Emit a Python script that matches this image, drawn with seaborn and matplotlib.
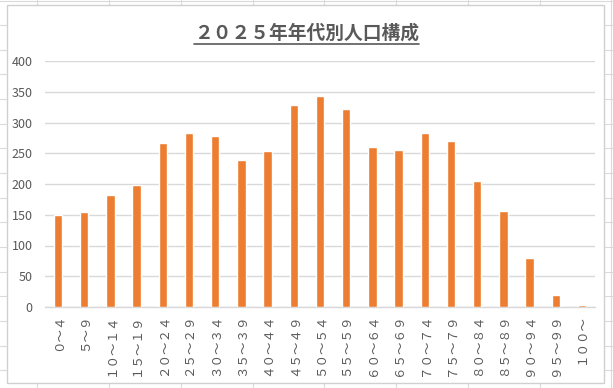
import matplotlib
matplotlib.use("Agg")
import matplotlib.pyplot as plt
import seaborn as sns
import pandas as pd
from matplotlib.lines import Line2D
from matplotlib.patches import Rectangle

# ---- data ----
title = "２０２５年年代別人口構成"
categories = ["０～４", "５～９", "１０～１４", "１５～１９", "２０～２４", "２５～２９",
              "３０～３４", "３５～３９", "４０～４４", "４５～４９", "５０～５４", "５５～５９",
              "６０～６４", "６５～６９", "７０～７４", "７５～７９", "８０～８４", "８５～８９",
              "９０～９４", "９５～９９", "１００～"]
values = [149, 155, 182, 198, 267, 283, 278, 239, 254, 329, 343, 322,
          260, 256, 283, 270, 205, 156, 80, 20, 4]
yticks = [0, 50, 100, 150, 200, 250, 300, 350, 400]

sns.set_theme(style="white")
plt.rcParams['font.family'] = ['Noto Sans CJK JP', 'DejaVu Sans']

W, H = 613, 388
fig = plt.figure(figsize=(W / 100, H / 100), dpi=100)
fig.patch.set_facecolor("white")

# background: spreadsheet cells + chart frame (pixel coordinates)
bg = fig.add_axes([0, 0, 1, 1], zorder=-5)
bg.set_xlim(0, W)
bg.set_ylim(H, 0)
bg.axis("off")
grid_c = "#dadada"
col_x = [37, 109, 181, 253, 324, 396, 468, 540, 611]
row_step = 24.65
for x in col_x:
    bg.add_line(Line2D([x, x], [0, H], color=grid_c, lw=0.8, zorder=1))
y = 0.5
while y < H:
    bg.add_line(Line2D([0, W], [y, y], color=grid_c, lw=0.8, zorder=1))
    y += row_step
bg.add_patch(Rectangle((7, 4.5), 597, 378, facecolor="white", edgecolor="#d0d0d0",
                       lw=1.0, zorder=5))

# main chart
ax = fig.add_axes([45 / W, 1 - 307 / H, 550 / W, 246 / H], zorder=1)
ax.patch.set_alpha(0)
df = pd.DataFrame({"age": categories, "pop": values})
sns.barplot(data=df, x="age", y="pop", color="#ED7D31", saturation=1, width=0.32, ax=ax, zorder=3)

ax.set_ylim(0, 400)
ax.set_xlim(-0.5, len(categories) - 0.5)
ax.set_yticks(yticks)
ax.set_yticklabels([str(v) for v in yticks])
ax.set_xlabel("")
ax.set_ylabel("")
ax.yaxis.grid(True, color="#d9d9d9", lw=1.0, zorder=0)
ax.set_axisbelow(True)
for s in ["top", "right", "left"]:
    ax.spines[s].set_visible(False)
ax.spines["bottom"].set_color("#d9d9d9")
ax.spines["bottom"].set_linewidth(1.0)
ax.tick_params(axis="both", length=0, colors="#595959")
ax.tick_params(axis="y", pad=9, labelsize=9)
ax.tick_params(axis="x", pad=5, labelsize=9)
for lab in ax.get_xticklabels():
    lab.set_rotation(90)
    lab.set_va("top")
    lab.set_ha("center")

t = fig.text(307 / W, 1 - 33 / H, title, ha="center", va="center",
             fontsize=13.5, fontweight="bold", color="#595959")
fig.canvas.draw()
bb = t.get_window_extent()
uy = H - (bb.y0 - 1)
bg.add_line(Line2D([bb.x0, bb.x1], [uy, uy], color="#595959", lw=1.2, zorder=6))

fig.savefig("out.png", dpi=100, facecolor="white")
